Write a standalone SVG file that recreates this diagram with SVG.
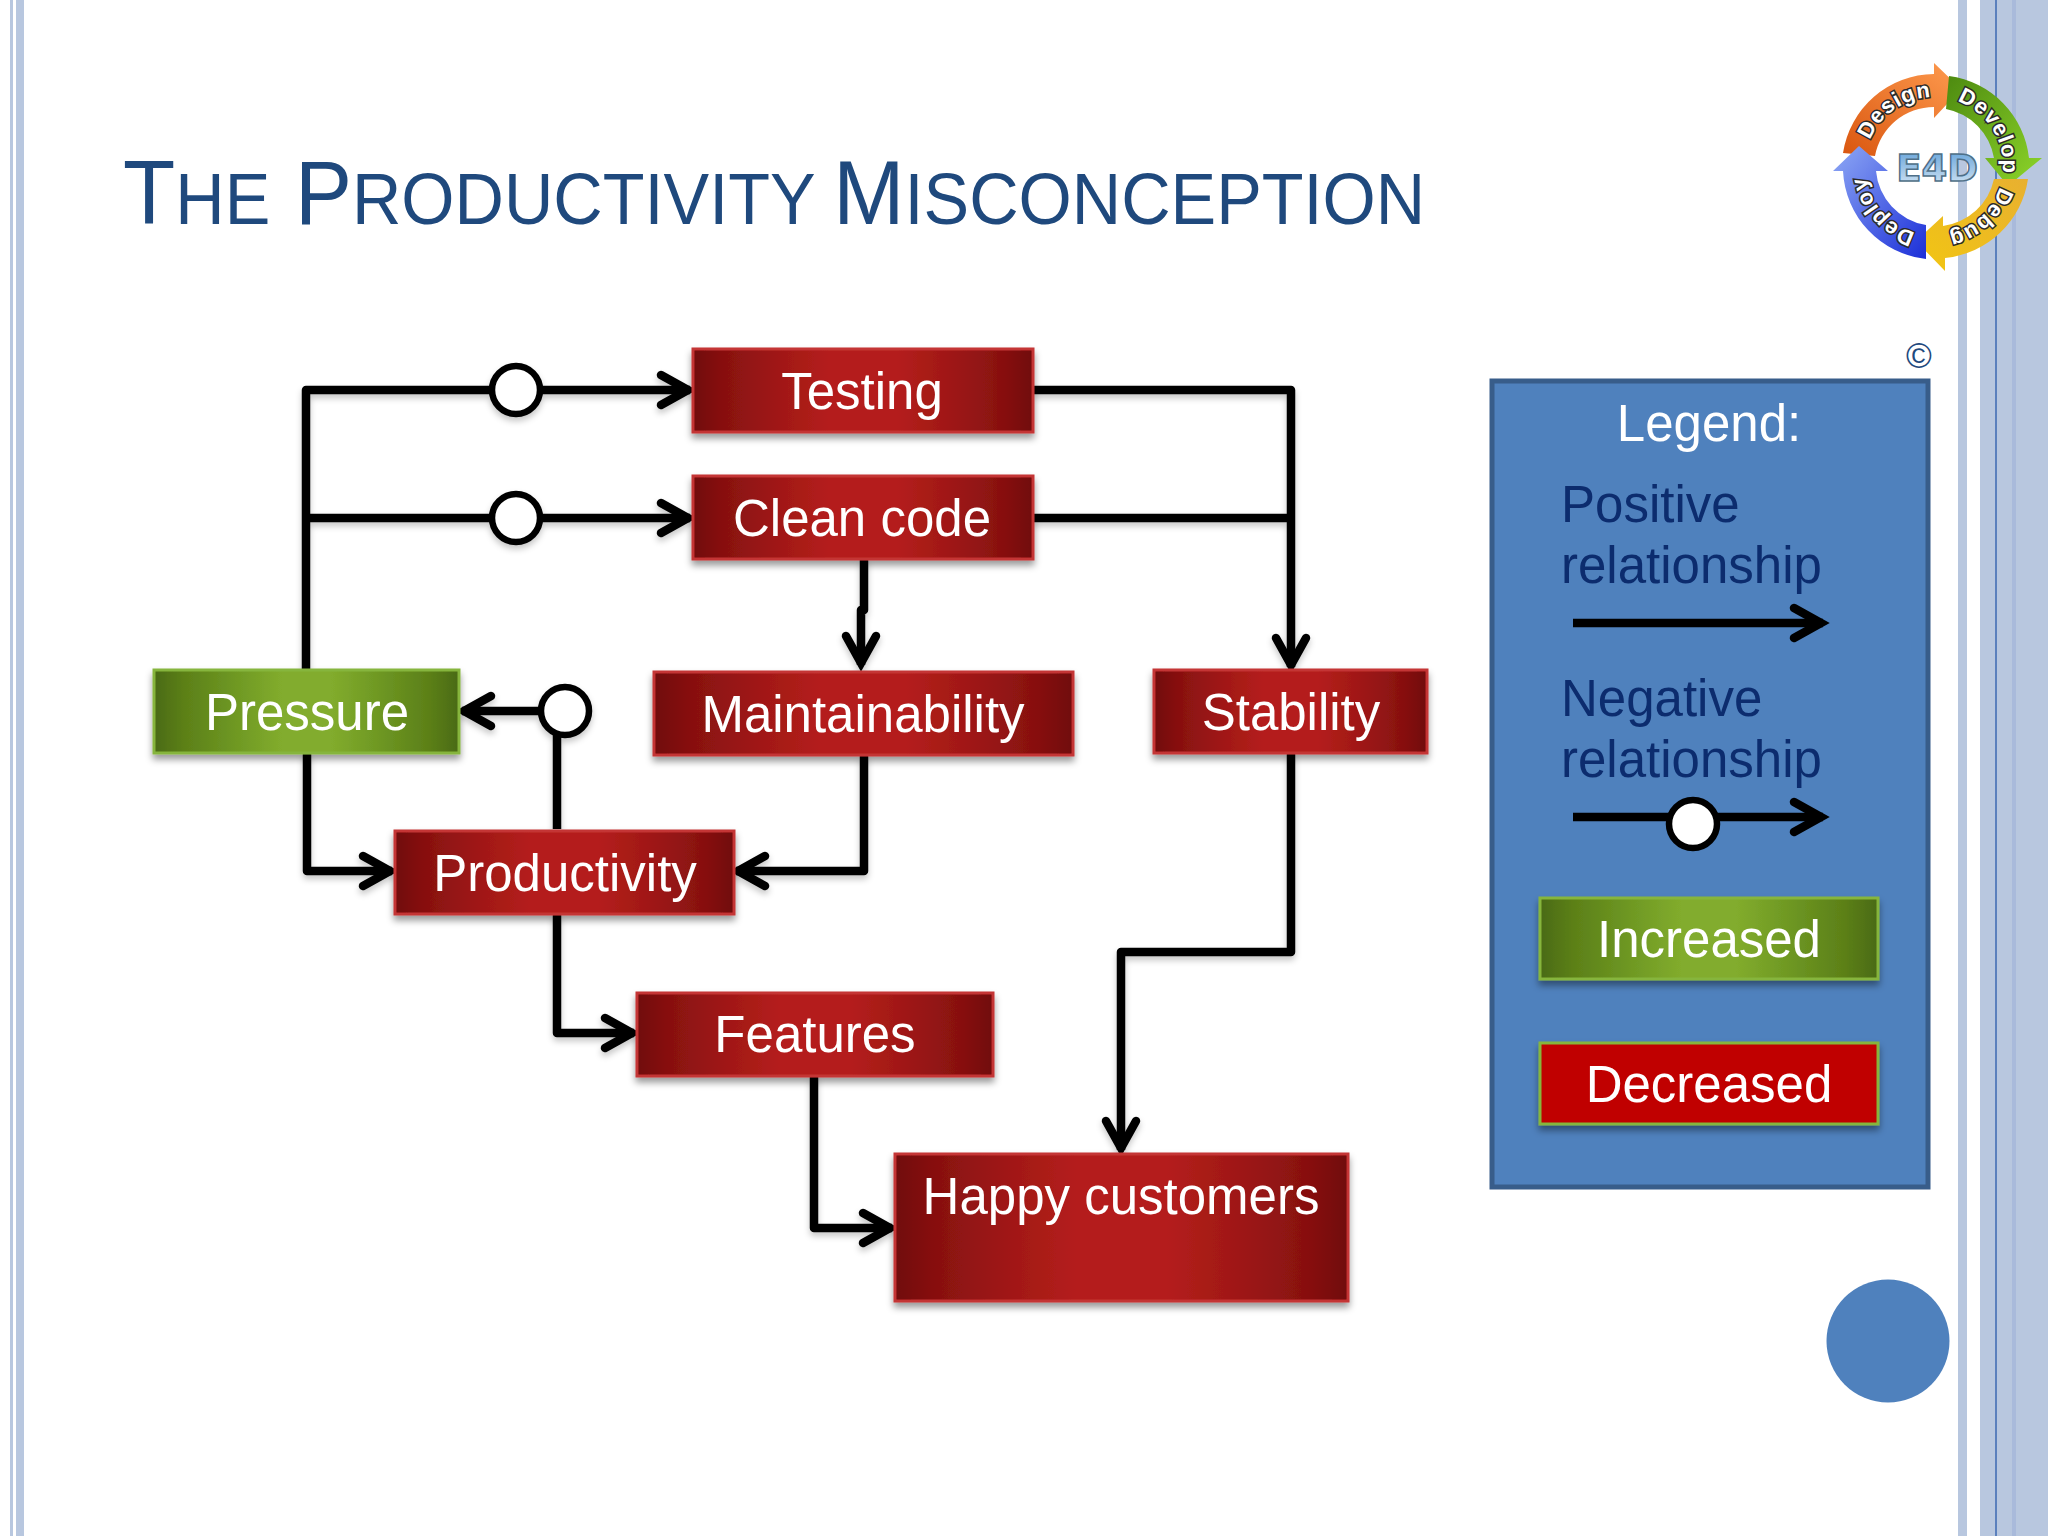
<svg xmlns="http://www.w3.org/2000/svg" width="2048" height="1536" viewBox="0 0 2048 1536">
<style>
.t{font-family:"Liberation Sans",Arial,sans-serif;font-size:51px;fill:#fff;text-anchor:middle}
.l{font-family:"Liberation Sans",Arial,sans-serif;font-size:51px;fill:#0c2c6e}
.red{fill:url(#rg);stroke:#c43434;stroke-width:3;filter:url(#sh)}
.grn{fill:url(#gg);stroke:#86b53c;stroke-width:3;filter:url(#sh)}
.c{fill:none;stroke:#000;stroke-width:8.5;stroke-linejoin:round}
.a{marker-end:url(#ah)}
.o{fill:#fff;stroke:#000;stroke-width:6.5}
.s{fill:#b8c7df}
.lg{font-family:"Liberation Sans",Arial,sans-serif;font-weight:bold;font-size:22px;fill:#fff;stroke:#2a2a2a;stroke-width:3;paint-order:stroke;text-anchor:middle;letter-spacing:1px}
</style>
<defs>
<linearGradient id="rg"><stop offset="0" stop-color="#700808"/><stop offset="0.08" stop-color="#861010"/><stop offset="0.25" stop-color="#a01815"/><stop offset="0.4" stop-color="#b41e1c"/><stop offset="0.6" stop-color="#b41e1c"/><stop offset="0.75" stop-color="#a01815"/><stop offset="0.92" stop-color="#861010"/><stop offset="1" stop-color="#700808"/></linearGradient>
<linearGradient id="gg"><stop offset="0" stop-color="#4a6a12"/><stop offset="0.1" stop-color="#5c8018"/><stop offset="0.28" stop-color="#709a24"/><stop offset="0.42" stop-color="#82ac2d"/><stop offset="0.58" stop-color="#82ac2d"/><stop offset="0.72" stop-color="#709a24"/><stop offset="0.9" stop-color="#5c8018"/><stop offset="1" stop-color="#4a6a12"/></linearGradient>
<filter id="sh" x="-10%" y="-20%" width="120%" height="150%"><feDropShadow dx="0" dy="5" stdDeviation="3.5" flood-color="#000" flood-opacity="0.4"/></filter>
<filter id="ls" x="-5%" y="-5%" width="110%" height="110%"><feDropShadow dx="0" dy="4" stdDeviation="3" flood-color="#000" flood-opacity="0.22"/></filter>
<marker id="ah" markerUnits="userSpaceOnUse" markerWidth="50" markerHeight="50" viewBox="-42 -25 50 50" refX="0" refY="0" orient="auto"><path d="M-29-15 L-2 0 L-29 15" fill="none" stroke="#000" stroke-width="8.5" stroke-linecap="round" stroke-linejoin="miter"/></marker>
<linearGradient id="or" x1="0" y1="1" x2="1" y2="0"><stop offset="0" stop-color="#d9560f"/><stop offset="1" stop-color="#ff9c50"/></linearGradient>
<linearGradient id="gr" x1="0" y1="0" x2="1" y2="1"><stop offset="0" stop-color="#4d8a10"/><stop offset="1" stop-color="#8ed62a"/></linearGradient>
<linearGradient id="ye" x1="1" y1="0" x2="0" y2="1"><stop offset="0" stop-color="#e8b030"/><stop offset="1" stop-color="#f2c612"/></linearGradient>
<linearGradient id="bl" x1="1" y1="1" x2="0" y2="0"><stop offset="0" stop-color="#1c2fd8"/><stop offset="1" stop-color="#8fa9f5"/></linearGradient>
<linearGradient id="e4" x1="0" y1="0" x2="0" y2="1"><stop offset="0" stop-color="#5f9fd8"/><stop offset="1" stop-color="#dbeaf6"/></linearGradient>
<path id="arc" d="M1864 165A69 69 0 1 1 2002 165A69 69 0 1 1 1864 165"/>
</defs>
<rect width="2048" height="1536" fill="#fff"/>
<g id="frame">
<rect class="s" x="10" y="0" width="3" height="1536"/>
<rect class="s" x="16" y="0" width="8" height="1536"/>
<rect class="s" x="1958" y="0" width="9" height="1536"/>
<rect class="s" x="1980" y="0" width="68" height="1536"/>
<rect x="1995" y="0" width="2" height="1536" fill="#5b80bd"/>
<rect x="2012" y="0" width="4" height="1536" fill="#a9badb"/>
</g>
<text id="title" transform="translate(123 224) scale(0.95 1)" font-family="'Liberation Sans',Arial,sans-serif" font-size="72" fill="#1f497d"><tspan font-size="90">T</tspan>HE <tspan font-size="90" dx="6">P</tspan>RODUCTIVITY <tspan font-size="90">M</tspan>ISCONCEPTION</text>
<g id="logo" transform="translate(1 1)">
<path d="M1842 152A93 93 0 0 1 1933 73L1933 62L1960 88L1933 117L1933 106A60 60 0 0 0 1874 155Z" fill="url(#or)"/>
<path d="M1948 75A93 93 0 0 1 2028 157L2041 157L2007 185L1984 157L1993 157A60 60 0 0 0 1945 108Z" fill="url(#gr)"/>
<path d="M2027 178A93 93 0 0 1 1944 257L1944 270L1915 240L1942 215L1942 225A60 60 0 0 0 1993 178Z" fill="url(#ye)"/>
<path d="M1925 258A93 93 0 0 1 1842 170L1832 170L1858 145L1887 170L1875 170A60 60 0 0 0 1925 224Z" fill="url(#bl)"/>
<text class="lg"><textPath href="#arc" startOffset="66">Design</textPath></text>
<text class="lg"><textPath href="#arc" startOffset="178">Develop</textPath></text>
<text class="lg"><textPath href="#arc" startOffset="274">Debug</textPath></text>
<text class="lg"><textPath href="#arc" startOffset="383">Deploy</textPath></text>
<text x="1936" y="180" font-family="'DejaVu Sans',sans-serif" font-weight="bold" font-size="37" text-anchor="middle" fill="url(#e4)" stroke="#4f6f88" stroke-width="1.5">E4D</text>
</g>
<text id="copyright" x="1919" y="368" font-family="'Liberation Sans',Arial,sans-serif" font-size="35" fill="#1f497d" text-anchor="middle">©</text>
<g id="connectors" filter="url(#ls)">
<path class="c" d="M306 670V390H490"/>
<path class="c a" d="M540 390H690"/>
<path class="c" d="M306 518H490"/>
<path class="c a" d="M540 518H690"/>
<path class="c" d="M1033 518H1289"/>
<path class="c a" d="M1033 390H1291V667"/>
<path class="c a" d="M864 559V610H861V665"/>
<path class="c a" d="M864 755V871H736"/>
<path class="c" d="M557 829V735"/>
<path class="c a" d="M541 711H462"/>
<path class="c a" d="M307 753V871H392"/>
<path class="c a" d="M557 914V1033H634"/>
<path class="c a" d="M814 1076V1228H892"/>
<path class="c a" d="M1291 753V952H1121V1150"/>
<circle class="o" cx="516" cy="390" r="24"/>
<circle class="o" cx="516" cy="518" r="24"/>
<circle class="o" cx="565" cy="711" r="24"/>
</g>
<g id="testing"><rect class="red" x="693" y="349" width="340" height="83"/><text class="t" x="862" y="409">Testing</text></g>
<g id="clean-code"><rect class="red" x="693" y="476" width="340" height="83"/><text class="t" x="862" y="536">Clean code</text></g>
<g id="maintainability"><rect class="red" x="654" y="672" width="419" height="83"/><text class="t" x="863" y="732">Maintainability</text></g>
<g id="stability"><rect class="red" x="1154" y="670" width="273" height="83"/><text class="t" x="1291" y="730">Stability</text></g>
<g id="pressure"><rect class="grn" x="154" y="670" width="305" height="83"/><text class="t" x="307" y="730">Pressure</text></g>
<g id="productivity"><rect class="red" x="395" y="831" width="339" height="83"/><text class="t" x="565" y="891">Productivity</text></g>
<g id="features"><rect class="red" x="637" y="993" width="356" height="83"/><text class="t" x="815" y="1052">Features</text></g>
<g id="happy-customers"><rect class="red" x="895" y="1154" width="453" height="147"/><text class="t" x="1121" y="1214">Happy customers</text></g>
<g id="legend">
<rect x="1492" y="381" width="436" height="806" fill="#4f81bd" stroke="#385d8a" stroke-width="5"/>
<text class="t" x="1709" y="441">Legend:</text>
<text class="l" x="1561" y="522">Positive</text>
<text class="l" x="1561" y="583">relationship</text>
<path class="c a" d="M1573 623H1823"/>
<text class="l" x="1561" y="716">Negative</text>
<text class="l" x="1561" y="777">relationship</text>
<path class="c a" d="M1573 817H1823"/>
<circle class="o" cx="1693" cy="824" r="24"/>
<rect x="1540" y="898" width="338" height="81" fill="url(#gg)" stroke="#86b53c" stroke-width="3" filter="url(#sh)"/>
<text class="t" x="1709" y="957">Increased</text>
<rect x="1540" y="1043" width="338" height="81" fill="#c00000" stroke="#86b53c" stroke-width="3" filter="url(#sh)"/>
<text class="t" x="1709" y="1102">Decreased</text>
</g>
<circle id="dot" cx="1888" cy="1341" r="61.5" fill="#4f81bd"/>
</svg>
